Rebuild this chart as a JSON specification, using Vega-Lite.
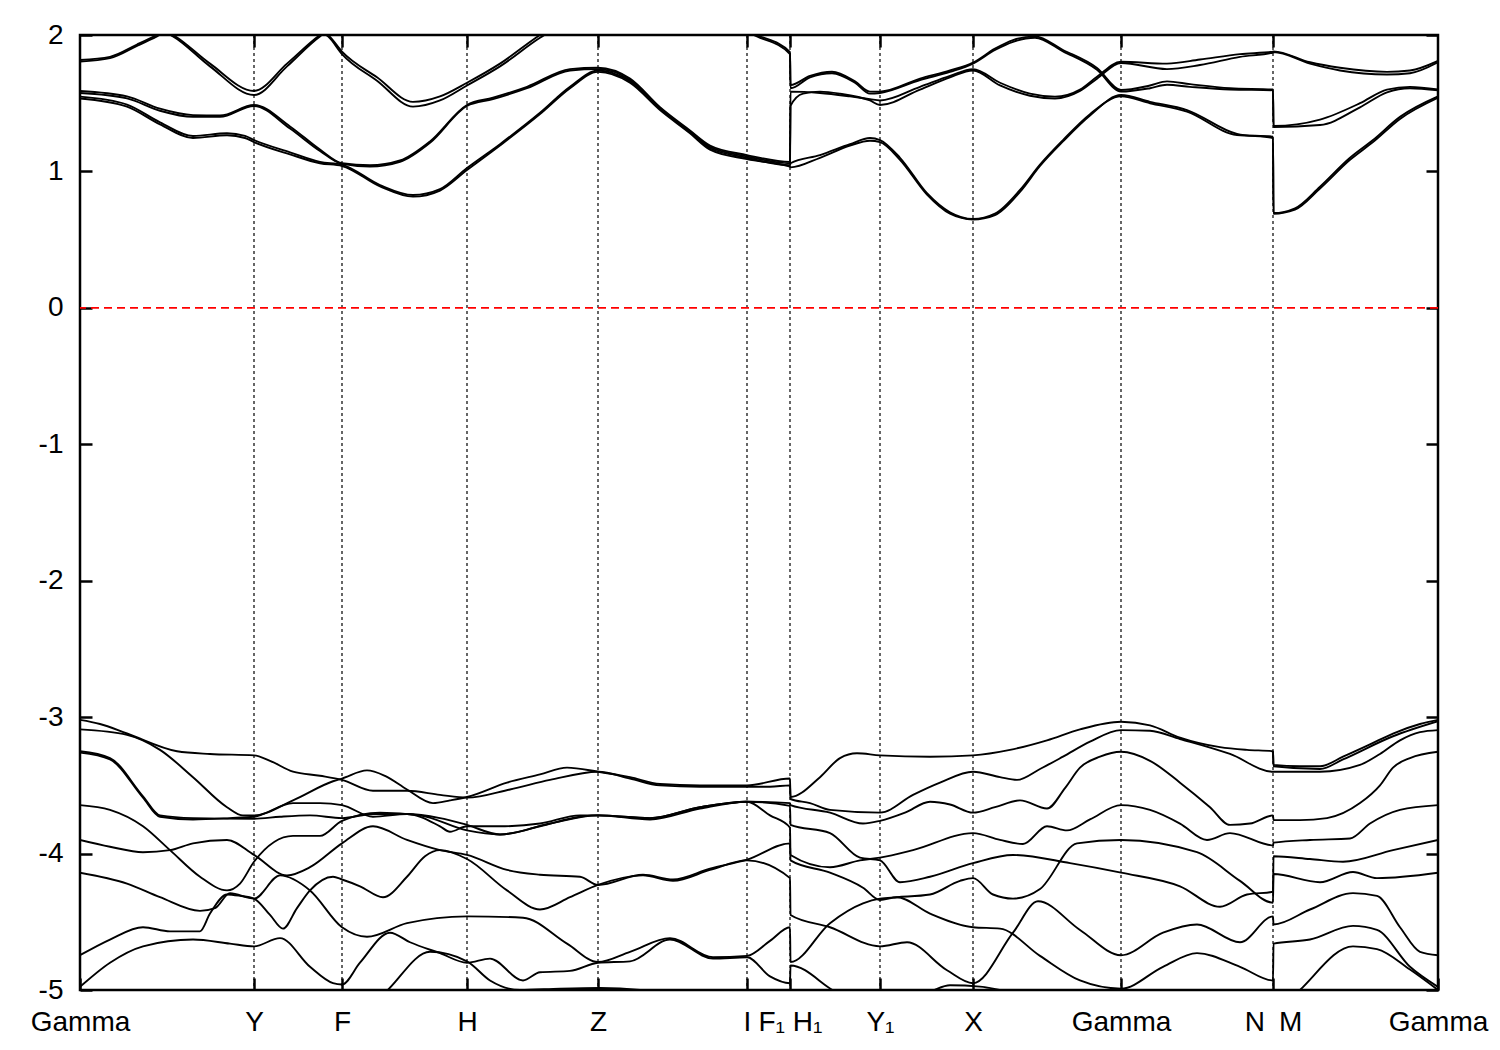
{
"$schema": "https://vega.github.io/schema/vega-lite/v6.json",
"width": 1358, "height": 955,
"autosize": {"type": "none"},
"padding": {"left": 80, "top": 35, "right": 62, "bottom": 60},
"background": "white",
"config": {"view": {"stroke": "black", "strokeWidth": 2.5}},
"datasets": {
"kp": [{"x":174},{"x":262},{"x":387},{"x":518},{"x":667},{"x":710},{"x":800},{"x":893},{"x":1041},{"x":1193}],
"zero": [{"e":0}],
"bands": [
{"b":"c1","x":0,"y":1.817},{"b":"c1","x":30,"y":1.84},{"b":"c1","x":57,"y":1.93},{"b":"c1","x":77,"y":2.0},{"b":"c1","x":85,"y":2.03},{"b":"c1","x":93,"y":2.0},{"b":"c1","x":130,"y":1.79},{"b":"c1","x":174,"y":1.59},{"b":"c1","x":207,"y":1.79},{"b":"c1","x":240,"y":2.0},{"b":"c1","x":244,"y":2.02},{"b":"c1","x":248,"y":2.0},{"b":"c1","x":262,"y":1.878},{"b":"c1","x":297,"y":1.69},{"b":"c1","x":333,"y":1.51},{"b":"c1","x":360,"y":1.55},{"b":"c1","x":387,"y":1.65},{"b":"c1","x":420,"y":1.79},{"b":"c1","x":460,"y":2.0},{"b":"c1","x":560,"y":2.35},{"b":"c1","x":640,"y":2.12},{"b":"c1","x":677,"y":2.0},{"b":"c1","x":710,"y":1.875},
{"b":"c1","x":710.5,"y":1.633},{"b":"c1","x":730,"y":1.70},{"b":"c1","x":752,"y":1.731},{"b":"c1","x":775,"y":1.66},{"b":"c1","x":790,"y":1.585},{"b":"c1","x":800,"y":1.585},{"b":"c1","x":840,"y":1.68},{"b":"c1","x":870,"y":1.74},{"b":"c1","x":893,"y":1.797},{"b":"c1","x":915,"y":1.90},{"b":"c1","x":933,"y":1.963},{"b":"c1","x":955,"y":1.99},{"b":"c1","x":983,"y":1.89},{"b":"c1","x":1017,"y":1.758},{"b":"c1","x":1041,"y":1.597},{"b":"c1","x":1070,"y":1.63},{"b":"c1","x":1087,"y":1.66},{"b":"c1","x":1110,"y":1.64},{"b":"c1","x":1150,"y":1.61},{"b":"c1","x":1193,"y":1.60},
{"b":"c1","x":1193.5,"y":1.333},{"b":"c1","x":1240,"y":1.38},{"b":"c1","x":1280,"y":1.50},{"b":"c1","x":1307,"y":1.60},{"b":"c1","x":1330,"y":1.62},{"b":"c1","x":1358,"y":1.60},
{"b":"c1b","x":0,"y":1.805},{"b":"c1b","x":30,"y":1.83},{"b":"c1b","x":57,"y":1.92},{"b":"c1b","x":77,"y":1.99},{"b":"c1b","x":85,"y":2.02},{"b":"c1b","x":93,"y":1.99},{"b":"c1b","x":130,"y":1.77},{"b":"c1b","x":174,"y":1.56},{"b":"c1b","x":207,"y":1.77},{"b":"c1b","x":240,"y":1.99},{"b":"c1b","x":244,"y":2.01},{"b":"c1b","x":248,"y":1.99},{"b":"c1b","x":262,"y":1.86},{"b":"c1b","x":297,"y":1.665},{"b":"c1b","x":333,"y":1.475},{"b":"c1b","x":360,"y":1.52},{"b":"c1b","x":387,"y":1.63},{"b":"c1b","x":420,"y":1.77},{"b":"c1b","x":460,"y":1.98},{"b":"c1b","x":560,"y":2.3},{"b":"c1b","x":640,"y":2.1},{"b":"c1b","x":677,"y":1.99},{"b":"c1b","x":710,"y":1.86},
{"b":"c1b","x":710.5,"y":1.61},{"b":"c1b","x":730,"y":1.69},{"b":"c1b","x":752,"y":1.72},{"b":"c1b","x":775,"y":1.65},{"b":"c1b","x":790,"y":1.57},{"b":"c1b","x":800,"y":1.575},{"b":"c1b","x":840,"y":1.67},{"b":"c1b","x":870,"y":1.73},{"b":"c1b","x":893,"y":1.79},{"b":"c1b","x":915,"y":1.89},{"b":"c1b","x":933,"y":1.95},{"b":"c1b","x":955,"y":1.98},{"b":"c1b","x":983,"y":1.88},{"b":"c1b","x":1017,"y":1.745},{"b":"c1b","x":1041,"y":1.585},{"b":"c1b","x":1070,"y":1.61},{"b":"c1b","x":1087,"y":1.635},{"b":"c1b","x":1110,"y":1.62},{"b":"c1b","x":1150,"y":1.60},{"b":"c1b","x":1193,"y":1.595},
{"b":"c1b","x":1193.5,"y":1.325},{"b":"c1b","x":1240,"y":1.34},{"b":"c1b","x":1280,"y":1.47},{"b":"c1b","x":1307,"y":1.58},{"b":"c1b","x":1330,"y":1.61},{"b":"c1b","x":1358,"y":1.595},
{"b":"c2","x":0,"y":1.59},{"b":"c2","x":47,"y":1.55},{"b":"c2","x":80,"y":1.46},{"b":"c2","x":113,"y":1.413},{"b":"c2","x":140,"y":1.41},{"b":"c2","x":174,"y":1.487},{"b":"c2","x":210,"y":1.33},{"b":"c2","x":240,"y":1.16},{"b":"c2","x":262,"y":1.06},{"b":"c2","x":290,"y":1.045},{"b":"c2","x":320,"y":1.08},{"b":"c2","x":350,"y":1.22},{"b":"c2","x":387,"y":1.487},{"b":"c2","x":413,"y":1.54},{"b":"c2","x":447,"y":1.62},{"b":"c2","x":490,"y":1.75},{"b":"c2","x":518,"y":1.76},{"b":"c2","x":550,"y":1.68},{"b":"c2","x":580,"y":1.47},{"b":"c2","x":610,"y":1.30},{"b":"c2","x":630,"y":1.19},{"b":"c2","x":667,"y":1.12},{"b":"c2","x":710,"y":1.07},
{"b":"c2","x":710.5,"y":1.585},{"b":"c2","x":740,"y":1.575},{"b":"c2","x":770,"y":1.55},{"b":"c2","x":790,"y":1.53},{"b":"c2","x":800,"y":1.52},{"b":"c2","x":840,"y":1.62},{"b":"c2","x":870,"y":1.70},{"b":"c2","x":893,"y":1.749},{"b":"c2","x":920,"y":1.65},{"b":"c2","x":950,"y":1.57},{"b":"c2","x":975,"y":1.548},{"b":"c2","x":1000,"y":1.60},{"b":"c2","x":1017,"y":1.694},{"b":"c2","x":1041,"y":1.804},{"b":"c2","x":1087,"y":1.79},{"b":"c2","x":1120,"y":1.82},{"b":"c2","x":1160,"y":1.86},{"b":"c2","x":1193,"y":1.878},
{"b":"c2","x":1193.5,"y":1.88},{"b":"c2","x":1230,"y":1.80},{"b":"c2","x":1260,"y":1.76},{"b":"c2","x":1307,"y":1.73},{"b":"c2","x":1330,"y":1.74},{"b":"c2","x":1358,"y":1.81},
{"b":"c2b","x":0,"y":1.575},{"b":"c2b","x":47,"y":1.535},{"b":"c2b","x":80,"y":1.445},{"b":"c2b","x":113,"y":1.40},{"b":"c2b","x":140,"y":1.40},{"b":"c2b","x":174,"y":1.48},{"b":"c2b","x":210,"y":1.315},{"b":"c2b","x":240,"y":1.15},{"b":"c2b","x":262,"y":1.055},{"b":"c2b","x":290,"y":1.035},{"b":"c2b","x":320,"y":1.07},{"b":"c2b","x":350,"y":1.21},{"b":"c2b","x":387,"y":1.48},{"b":"c2b","x":413,"y":1.53},{"b":"c2b","x":447,"y":1.61},{"b":"c2b","x":490,"y":1.74},{"b":"c2b","x":518,"y":1.75},{"b":"c2b","x":550,"y":1.67},{"b":"c2b","x":580,"y":1.46},{"b":"c2b","x":610,"y":1.29},{"b":"c2b","x":630,"y":1.18},{"b":"c2b","x":667,"y":1.11},{"b":"c2b","x":710,"y":1.06},
{"b":"c2b","x":710.5,"y":1.48},{"b":"c2b","x":723,"y":1.57},{"b":"c2b","x":740,"y":1.585},{"b":"c2b","x":760,"y":1.57},{"b":"c2b","x":790,"y":1.52},{"b":"c2b","x":800,"y":1.487},{"b":"c2b","x":840,"y":1.60},{"b":"c2b","x":870,"y":1.69},{"b":"c2b","x":893,"y":1.74},{"b":"c2b","x":920,"y":1.63},{"b":"c2b","x":950,"y":1.555},{"b":"c2b","x":975,"y":1.535},{"b":"c2b","x":1000,"y":1.59},{"b":"c2b","x":1017,"y":1.68},{"b":"c2b","x":1041,"y":1.795},{"b":"c2b","x":1087,"y":1.75},{"b":"c2b","x":1120,"y":1.78},{"b":"c2b","x":1160,"y":1.84},{"b":"c2b","x":1193,"y":1.872},
{"b":"c2b","x":1193.5,"y":1.875},{"b":"c2b","x":1230,"y":1.79},{"b":"c2b","x":1260,"y":1.74},{"b":"c2b","x":1307,"y":1.71},{"b":"c2b","x":1330,"y":1.72},{"b":"c2b","x":1358,"y":1.80},
{"b":"c3","x":0,"y":1.548},{"b":"c3","x":47,"y":1.49},{"b":"c3","x":80,"y":1.36},{"b":"c3","x":113,"y":1.26},{"b":"c3","x":147,"y":1.28},{"b":"c3","x":165,"y":1.26},{"b":"c3","x":174,"y":1.23},{"b":"c3","x":210,"y":1.14},{"b":"c3","x":240,"y":1.07},{"b":"c3","x":262,"y":1.05},{"b":"c3","x":300,"y":0.90},{"b":"c3","x":333,"y":0.827},{"b":"c3","x":360,"y":0.87},{"b":"c3","x":387,"y":1.025},{"b":"c3","x":420,"y":1.20},{"b":"c3","x":460,"y":1.43},{"b":"c3","x":490,"y":1.62},{"b":"c3","x":518,"y":1.74},{"b":"c3","x":550,"y":1.66},{"b":"c3","x":580,"y":1.46},{"b":"c3","x":610,"y":1.29},{"b":"c3","x":630,"y":1.17},{"b":"c3","x":667,"y":1.10},{"b":"c3","x":710,"y":1.045},
{"b":"c3","x":710.5,"y":1.06},{"b":"c3","x":740,"y":1.12},{"b":"c3","x":770,"y":1.20},{"b":"c3","x":790,"y":1.245},{"b":"c3","x":800,"y":1.23},{"b":"c3","x":820,"y":1.10},{"b":"c3","x":847,"y":0.84},{"b":"c3","x":870,"y":0.70},{"b":"c3","x":893,"y":0.651},{"b":"c3","x":915,"y":0.69},{"b":"c3","x":940,"y":0.864},{"b":"c3","x":960,"y":1.05},{"b":"c3","x":983,"y":1.23},{"b":"c3","x":1010,"y":1.42},{"b":"c3","x":1041,"y":1.55},{"b":"c3","x":1070,"y":1.50},{"b":"c3","x":1107,"y":1.438},{"b":"c3","x":1157,"y":1.267},{"b":"c3","x":1193,"y":1.255},
{"b":"c3","x":1193.5,"y":0.695},{"b":"c3","x":1215,"y":0.73},{"b":"c3","x":1240,"y":0.888},{"b":"c3","x":1270,"y":1.10},{"b":"c3","x":1293,"y":1.23},{"b":"c3","x":1320,"y":1.40},{"b":"c3","x":1358,"y":1.55},
{"b":"c3b","x":0,"y":1.535},{"b":"c3b","x":47,"y":1.475},{"b":"c3b","x":80,"y":1.345},{"b":"c3b","x":113,"y":1.245},{"b":"c3b","x":147,"y":1.265},{"b":"c3b","x":165,"y":1.245},{"b":"c3b","x":174,"y":1.215},{"b":"c3b","x":210,"y":1.125},{"b":"c3b","x":240,"y":1.06},{"b":"c3b","x":262,"y":1.04},{"b":"c3b","x":300,"y":0.89},{"b":"c3b","x":333,"y":0.815},{"b":"c3b","x":360,"y":0.86},{"b":"c3b","x":387,"y":1.01},{"b":"c3b","x":420,"y":1.19},{"b":"c3b","x":460,"y":1.42},{"b":"c3b","x":490,"y":1.61},{"b":"c3b","x":518,"y":1.73},{"b":"c3b","x":550,"y":1.65},{"b":"c3b","x":580,"y":1.45},{"b":"c3b","x":610,"y":1.28},{"b":"c3b","x":630,"y":1.16},{"b":"c3b","x":667,"y":1.09},{"b":"c3b","x":710,"y":1.035},
{"b":"c3b","x":710.5,"y":1.03},{"b":"c3b","x":740,"y":1.10},{"b":"c3b","x":770,"y":1.19},{"b":"c3b","x":790,"y":1.225},{"b":"c3b","x":800,"y":1.215},{"b":"c3b","x":820,"y":1.085},{"b":"c3b","x":847,"y":0.83},{"b":"c3b","x":870,"y":0.69},{"b":"c3b","x":893,"y":0.648},{"b":"c3b","x":915,"y":0.68},{"b":"c3b","x":940,"y":0.85},{"b":"c3b","x":960,"y":1.04},{"b":"c3b","x":983,"y":1.22},{"b":"c3b","x":1010,"y":1.41},{"b":"c3b","x":1041,"y":1.56},{"b":"c3b","x":1070,"y":1.51},{"b":"c3b","x":1107,"y":1.45},{"b":"c3b","x":1157,"y":1.275},{"b":"c3b","x":1193,"y":1.245},
{"b":"c3b","x":1193.5,"y":0.69},{"b":"c3b","x":1215,"y":0.72},{"b":"c3b","x":1240,"y":0.875},{"b":"c3b","x":1270,"y":1.085},{"b":"c3b","x":1293,"y":1.215},{"b":"c3b","x":1320,"y":1.385},{"b":"c3b","x":1358,"y":1.54},
{"b":"v1","x":0,"y":-3.09},{"b":"v1","x":47,"y":-3.13},{"b":"v1","x":80,"y":-3.24},{"b":"v1","x":113,"y":-3.44},{"b":"v1","x":147,"y":-3.66},{"b":"v1","x":163,"y":-3.72},{"b":"v1","x":174,"y":-3.72},{"b":"v1","x":213,"y":-3.61},{"b":"v1","x":253,"y":-3.47},{"b":"v1","x":262,"y":-3.45},{"b":"v1","x":287,"y":-3.39},{"b":"v1","x":305,"y":-3.43},{"b":"v1","x":327,"y":-3.53},{"b":"v1","x":353,"y":-3.63},{"b":"v1","x":370,"y":-3.61},{"b":"v1","x":387,"y":-3.585},{"b":"v1","x":427,"y":-3.48},{"b":"v1","x":460,"y":-3.42},{"b":"v1","x":487,"y":-3.37},{"b":"v1","x":518,"y":-3.40},{"b":"v1","x":550,"y":-3.44},{"b":"v1","x":580,"y":-3.49},{"b":"v1","x":620,"y":-3.50},{"b":"v1","x":667,"y":-3.50},{"b":"v1","x":710,"y":-3.45},
{"b":"v1","x":710.5,"y":-3.585},{"b":"v1","x":740,"y":-3.44},{"b":"v1","x":760,"y":-3.30},{"b":"v1","x":777,"y":-3.265},{"b":"v1","x":800,"y":-3.28},{"b":"v1","x":850,"y":-3.29},{"b":"v1","x":893,"y":-3.28},{"b":"v1","x":930,"y":-3.24},{"b":"v1","x":967,"y":-3.17},{"b":"v1","x":1000,"y":-3.09},{"b":"v1","x":1041,"y":-3.034},{"b":"v1","x":1070,"y":-3.06},{"b":"v1","x":1100,"y":-3.15},{"b":"v1","x":1140,"y":-3.22},{"b":"v1","x":1167,"y":-3.24},{"b":"v1","x":1193,"y":-3.25},
{"b":"v1","x":1193.5,"y":-3.35},{"b":"v1","x":1220,"y":-3.36},{"b":"v1","x":1240,"y":-3.36},{"b":"v1","x":1263,"y":-3.29},{"b":"v1","x":1290,"y":-3.20},{"b":"v1","x":1313,"y":-3.12},{"b":"v1","x":1340,"y":-3.05},{"b":"v1","x":1358,"y":-3.02},
{"b":"vt","x":1193,"y":-3.25},{"b":"vt","x":1193.5,"y":-3.36},{"b":"vt","x":1240,"y":-3.38},{"b":"vt","x":1263,"y":-3.31},{"b":"vt","x":1313,"y":-3.14},{"b":"vt","x":1358,"y":-3.03},
{"b":"v2","x":0,"y":-3.02},{"b":"v2","x":20,"y":-3.05},{"b":"v2","x":47,"y":-3.12},{"b":"v2","x":97,"y":-3.25},{"b":"v2","x":130,"y":-3.27},{"b":"v2","x":174,"y":-3.28},{"b":"v2","x":190,"y":-3.32},{"b":"v2","x":213,"y":-3.40},{"b":"v2","x":240,"y":-3.43},{"b":"v2","x":262,"y":-3.46},{"b":"v2","x":293,"y":-3.54},{"b":"v2","x":327,"y":-3.54},{"b":"v2","x":360,"y":-3.57},{"b":"v2","x":387,"y":-3.59},{"b":"v2","x":430,"y":-3.53},{"b":"v2","x":470,"y":-3.46},{"b":"v2","x":518,"y":-3.40},{"b":"v2","x":550,"y":-3.45},{"b":"v2","x":580,"y":-3.50},{"b":"v2","x":620,"y":-3.51},{"b":"v2","x":667,"y":-3.51},{"b":"v2","x":690,"y":-3.51},{"b":"v2","x":710,"y":-3.50},
{"b":"v2","x":710.5,"y":-3.60},{"b":"v2","x":730,"y":-3.63},{"b":"v2","x":750,"y":-3.68},{"b":"v2","x":800,"y":-3.70},{"b":"v2","x":833,"y":-3.57},{"b":"v2","x":860,"y":-3.48},{"b":"v2","x":893,"y":-3.40},{"b":"v2","x":920,"y":-3.44},{"b":"v2","x":937,"y":-3.46},{"b":"v2","x":960,"y":-3.38},{"b":"v2","x":983,"y":-3.29},{"b":"v2","x":1010,"y":-3.18},{"b":"v2","x":1041,"y":-3.095},{"b":"v2","x":1070,"y":-3.10},{"b":"v2","x":1100,"y":-3.16},{"b":"v2","x":1150,"y":-3.27},{"b":"v2","x":1193,"y":-3.40},
{"b":"v2","x":1193.5,"y":-3.40},{"b":"v2","x":1240,"y":-3.40},{"b":"v2","x":1280,"y":-3.35},{"b":"v2","x":1300,"y":-3.27},{"b":"v2","x":1320,"y":-3.17},{"b":"v2","x":1340,"y":-3.11},{"b":"v2","x":1358,"y":-3.095},
{"b":"v3","x":0,"y":-3.26},{"b":"v3","x":30,"y":-3.31},{"b":"v3","x":63,"y":-3.59},{"b":"v3","x":80,"y":-3.73},{"b":"v3","x":113,"y":-3.75},{"b":"v3","x":150,"y":-3.74},{"b":"v3","x":174,"y":-3.73},{"b":"v3","x":213,"y":-3.63},{"b":"v3","x":240,"y":-3.63},{"b":"v3","x":262,"y":-3.645},{"b":"v3","x":293,"y":-3.73},{"b":"v3","x":327,"y":-3.71},{"b":"v3","x":360,"y":-3.80},{"b":"v3","x":370,"y":-3.84},{"b":"v3","x":387,"y":-3.80},{"b":"v3","x":420,"y":-3.80},{"b":"v3","x":460,"y":-3.78},{"b":"v3","x":500,"y":-3.72},{"b":"v3","x":518,"y":-3.72},{"b":"v3","x":570,"y":-3.75},{"b":"v3","x":620,"y":-3.67},{"b":"v3","x":667,"y":-3.62},{"b":"v3","x":710,"y":-3.63},
{"b":"v3","x":710.5,"y":-3.645},{"b":"v3","x":750,"y":-3.70},{"b":"v3","x":783,"y":-3.78},{"b":"v3","x":800,"y":-3.76},{"b":"v3","x":825,"y":-3.70},{"b":"v3","x":850,"y":-3.62},{"b":"v3","x":870,"y":-3.64},{"b":"v3","x":893,"y":-3.70},{"b":"v3","x":915,"y":-3.66},{"b":"v3","x":940,"y":-3.61},{"b":"v3","x":967,"y":-3.67},{"b":"v3","x":985,"y":-3.52},{"b":"v3","x":1000,"y":-3.37},{"b":"v3","x":1020,"y":-3.29},{"b":"v3","x":1041,"y":-3.254},{"b":"v3","x":1070,"y":-3.32},{"b":"v3","x":1100,"y":-3.48},{"b":"v3","x":1130,"y":-3.66},{"b":"v3","x":1150,"y":-3.79},{"b":"v3","x":1170,"y":-3.78},{"b":"v3","x":1193,"y":-3.72},
{"b":"v3","x":1193.5,"y":-3.755},{"b":"v3","x":1220,"y":-3.755},{"b":"v3","x":1247,"y":-3.74},{"b":"v3","x":1280,"y":-3.63},{"b":"v3","x":1300,"y":-3.50},{"b":"v3","x":1313,"y":-3.37},{"b":"v3","x":1330,"y":-3.30},{"b":"v3","x":1358,"y":-3.254},
{"b":"v4","x":0,"y":-3.25},{"b":"v4","x":30,"y":-3.30},{"b":"v4","x":63,"y":-3.58},{"b":"v4","x":80,"y":-3.72},{"b":"v4","x":113,"y":-3.74},{"b":"v4","x":174,"y":-3.745},{"b":"v4","x":200,"y":-3.73},{"b":"v4","x":230,"y":-3.72},{"b":"v4","x":262,"y":-3.74},{"b":"v4","x":293,"y":-3.71},{"b":"v4","x":327,"y":-3.71},{"b":"v4","x":360,"y":-3.74},{"b":"v4","x":387,"y":-3.79},{"b":"v4","x":420,"y":-3.86},{"b":"v4","x":460,"y":-3.80},{"b":"v4","x":500,"y":-3.73},{"b":"v4","x":518,"y":-3.72},{"b":"v4","x":570,"y":-3.74},{"b":"v4","x":620,"y":-3.66},{"b":"v4","x":667,"y":-3.62},{"b":"v4","x":710,"y":-3.65},
{"b":"v4","x":710.5,"y":-3.79},{"b":"v4","x":750,"y":-3.85},{"b":"v4","x":780,"y":-4.03},{"b":"v4","x":800,"y":-4.05},{"b":"v4","x":820,"y":-4.21},{"b":"v4","x":850,"y":-4.17},{"b":"v4","x":893,"y":-4.07},{"b":"v4","x":933,"y":-4.01},{"b":"v4","x":990,"y":-4.07},{"b":"v4","x":1041,"y":-4.14},{"b":"v4","x":1100,"y":-4.24},{"b":"v4","x":1140,"y":-4.39},{"b":"v4","x":1167,"y":-4.30},{"b":"v4","x":1193,"y":-4.28},
{"b":"v4","x":1193.5,"y":-4.02},{"b":"v4","x":1230,"y":-4.04},{"b":"v4","x":1263,"y":-4.06},{"b":"v4","x":1313,"y":-3.975},{"b":"v4","x":1358,"y":-3.90},
{"b":"v5","x":0,"y":-3.645},{"b":"v5","x":30,"y":-3.68},{"b":"v5","x":63,"y":-3.80},{"b":"v5","x":90,"y":-3.975},{"b":"v5","x":120,"y":-4.17},{"b":"v5","x":147,"y":-4.27},{"b":"v5","x":160,"y":-4.22},{"b":"v5","x":174,"y":-4.06},{"b":"v5","x":213,"y":-3.87},{"b":"v5","x":240,"y":-3.87},{"b":"v5","x":262,"y":-3.76},{"b":"v5","x":300,"y":-3.70},{"b":"v5","x":340,"y":-3.72},{"b":"v5","x":387,"y":-3.83},{"b":"v5","x":420,"y":-3.86},{"b":"v5","x":470,"y":-3.78},{"b":"v5","x":518,"y":-3.72},{"b":"v5","x":570,"y":-3.74},{"b":"v5","x":620,"y":-3.66},{"b":"v5","x":667,"y":-3.62},{"b":"v5","x":690,"y":-3.72},{"b":"v5","x":710,"y":-3.81},
{"b":"v5","x":710.5,"y":-4.01},{"b":"v5","x":750,"y":-4.10},{"b":"v5","x":780,"y":-4.05},{"b":"v5","x":800,"y":-4.03},{"b":"v5","x":833,"y":-3.975},{"b":"v5","x":893,"y":-3.85},{"b":"v5","x":920,"y":-3.90},{"b":"v5","x":943,"y":-3.93},{"b":"v5","x":967,"y":-3.80},{"b":"v5","x":987,"y":-3.83},{"b":"v5","x":1010,"y":-3.75},{"b":"v5","x":1041,"y":-3.645},{"b":"v5","x":1070,"y":-3.68},{"b":"v5","x":1100,"y":-3.78},{"b":"v5","x":1127,"y":-3.90},{"b":"v5","x":1150,"y":-3.85},{"b":"v5","x":1193,"y":-3.94},
{"b":"v5","x":1193.5,"y":-3.92},{"b":"v5","x":1230,"y":-3.90},{"b":"v5","x":1270,"y":-3.89},{"b":"v5","x":1290,"y":-3.78},{"b":"v5","x":1320,"y":-3.68},{"b":"v5","x":1358,"y":-3.645},
{"b":"v6","x":0,"y":-3.90},{"b":"v6","x":30,"y":-3.95},{"b":"v6","x":63,"y":-3.99},{"b":"v6","x":90,"y":-3.975},{"b":"v6","x":113,"y":-3.925},{"b":"v6","x":147,"y":-3.90},{"b":"v6","x":174,"y":-4.01},{"b":"v6","x":207,"y":-4.16},{"b":"v6","x":230,"y":-4.10},{"b":"v6","x":262,"y":-3.925},{"b":"v6","x":293,"y":-3.80},{"b":"v6","x":327,"y":-3.90},{"b":"v6","x":360,"y":-3.975},{"b":"v6","x":387,"y":-4.01},{"b":"v6","x":427,"y":-4.12},{"b":"v6","x":460,"y":-4.155},{"b":"v6","x":500,"y":-4.17},{"b":"v6","x":518,"y":-4.23},{"b":"v6","x":563,"y":-4.155},{"b":"v6","x":593,"y":-4.19},{"b":"v6","x":630,"y":-4.11},{"b":"v6","x":667,"y":-4.045},{"b":"v6","x":710,"y":-3.925},
{"b":"v6","x":710.5,"y":-4.05},{"b":"v6","x":750,"y":-4.14},{"b":"v6","x":783,"y":-4.25},{"b":"v6","x":800,"y":-4.34},{"b":"v6","x":817,"y":-4.32},{"b":"v6","x":850,"y":-4.44},{"b":"v6","x":893,"y":-4.54},{"b":"v6","x":920,"y":-4.55},{"b":"v6","x":960,"y":-4.75},{"b":"v6","x":1000,"y":-4.93},{"b":"v6","x":1041,"y":-4.99},{"b":"v6","x":1083,"y":-4.83},{"b":"v6","x":1117,"y":-4.73},{"b":"v6","x":1160,"y":-4.83},{"b":"v6","x":1193,"y":-4.93},
{"b":"v6","x":1193.5,"y":-4.66},{"b":"v6","x":1230,"y":-4.63},{"b":"v6","x":1273,"y":-4.53},{"b":"v6","x":1297,"y":-4.56},{"b":"v6","x":1330,"y":-4.83},{"b":"v6","x":1358,"y":-4.977},
{"b":"v7","x":0,"y":-4.745},{"b":"v7","x":30,"y":-4.63},{"b":"v7","x":63,"y":-4.54},{"b":"v7","x":90,"y":-4.57},{"b":"v7","x":120,"y":-4.57},{"b":"v7","x":130,"y":-4.44},{"b":"v7","x":147,"y":-4.30},{"b":"v7","x":160,"y":-4.31},{"b":"v7","x":174,"y":-4.33},{"b":"v7","x":190,"y":-4.45},{"b":"v7","x":203,"y":-4.55},{"b":"v7","x":217,"y":-4.40},{"b":"v7","x":230,"y":-4.27},{"b":"v7","x":253,"y":-4.17},{"b":"v7","x":262,"y":-4.19},{"b":"v7","x":280,"y":-4.24},{"b":"v7","x":303,"y":-4.32},{"b":"v7","x":327,"y":-4.17},{"b":"v7","x":345,"y":-4.02},{"b":"v7","x":360,"y":-3.975},{"b":"v7","x":387,"y":-4.04},{"b":"v7","x":427,"y":-4.27},{"b":"v7","x":460,"y":-4.41},{"b":"v7","x":490,"y":-4.32},{"b":"v7","x":518,"y":-4.23},{"b":"v7","x":563,"y":-4.16},{"b":"v7","x":593,"y":-4.20},{"b":"v7","x":630,"y":-4.12},{"b":"v7","x":667,"y":-4.05},{"b":"v7","x":710,"y":-4.18},
{"b":"v7","x":710.5,"y":-4.45},{"b":"v7","x":750,"y":-4.54},{"b":"v7","x":800,"y":-4.68},{"b":"v7","x":827,"y":-4.65},{"b":"v7","x":867,"y":-4.855},{"b":"v7","x":893,"y":-4.95},{"b":"v7","x":933,"y":-4.58},{"b":"v7","x":958,"y":-4.35},{"b":"v7","x":1000,"y":-4.56},{"b":"v7","x":1041,"y":-4.745},{"b":"v7","x":1083,"y":-4.58},{"b":"v7","x":1117,"y":-4.52},{"b":"v7","x":1160,"y":-4.65},{"b":"v7","x":1193,"y":-4.46},
{"b":"v7","x":1193.5,"y":-4.52},{"b":"v7","x":1230,"y":-4.41},{"b":"v7","x":1273,"y":-4.29},{"b":"v7","x":1297,"y":-4.31},{"b":"v7","x":1320,"y":-4.54},{"b":"v7","x":1340,"y":-4.72},{"b":"v7","x":1358,"y":-4.745},
{"b":"v8","x":0,"y":-4.14},{"b":"v8","x":47,"y":-4.22},{"b":"v8","x":80,"y":-4.32},{"b":"v8","x":120,"y":-4.42},{"b":"v8","x":135,"y":-4.40},{"b":"v8","x":150,"y":-4.29},{"b":"v8","x":174,"y":-4.33},{"b":"v8","x":200,"y":-4.16},{"b":"v8","x":230,"y":-4.27},{"b":"v8","x":262,"y":-4.54},{"b":"v8","x":287,"y":-4.61},{"b":"v8","x":327,"y":-4.51},{"b":"v8","x":387,"y":-4.46},{"b":"v8","x":443,"y":-4.47},{"b":"v8","x":487,"y":-4.66},{"b":"v8","x":518,"y":-4.795},{"b":"v8","x":550,"y":-4.72},{"b":"v8","x":590,"y":-4.62},{"b":"v8","x":633,"y":-4.76},{"b":"v8","x":667,"y":-4.75},{"b":"v8","x":690,"y":-4.64},{"b":"v8","x":710,"y":-4.54},
{"b":"v8","x":710.5,"y":-4.795},{"b":"v8","x":750,"y":-4.51},{"b":"v8","x":783,"y":-4.365},{"b":"v8","x":800,"y":-4.33},{"b":"v8","x":817,"y":-4.32},{"b":"v8","x":850,"y":-4.30},{"b":"v8","x":880,"y":-4.20},{"b":"v8","x":893,"y":-4.18},{"b":"v8","x":913,"y":-4.30},{"b":"v8","x":933,"y":-4.33},{"b":"v8","x":960,"y":-4.26},{"b":"v8","x":997,"y":-3.925},{"b":"v8","x":1041,"y":-3.90},{"b":"v8","x":1117,"y":-3.99},{"b":"v8","x":1160,"y":-4.20},{"b":"v8","x":1193,"y":-4.36},
{"b":"v8","x":1193.5,"y":-4.15},{"b":"v8","x":1240,"y":-4.21},{"b":"v8","x":1273,"y":-4.135},{"b":"v8","x":1297,"y":-4.18},{"b":"v8","x":1358,"y":-4.14},
{"b":"v9","x":0,"y":-4.977},{"b":"v9","x":30,"y":-4.80},{"b":"v9","x":63,"y":-4.68},{"b":"v9","x":113,"y":-4.63},{"b":"v9","x":150,"y":-4.66},{"b":"v9","x":174,"y":-4.68},{"b":"v9","x":200,"y":-4.62},{"b":"v9","x":230,"y":-4.83},{"b":"v9","x":253,"y":-4.95},{"b":"v9","x":262,"y":-4.96},{"b":"v9","x":280,"y":-4.80},{"b":"v9","x":310,"y":-4.58},{"b":"v9","x":330,"y":-4.65},{"b":"v9","x":360,"y":-4.73},{"b":"v9","x":387,"y":-4.80},{"b":"v9","x":410,"y":-4.77},{"b":"v9","x":443,"y":-4.93},{"b":"v9","x":460,"y":-4.87},{"b":"v9","x":490,"y":-4.86},{"b":"v9","x":518,"y":-4.80},{"b":"v9","x":550,"y":-4.79},{"b":"v9","x":590,"y":-4.63},{"b":"v9","x":633,"y":-4.77},{"b":"v9","x":667,"y":-4.76},{"b":"v9","x":690,"y":-4.90},{"b":"v9","x":710,"y":-4.95},
{"b":"v9","x":710.5,"y":-4.82},{"b":"v9","x":760,"y":-5.03},{"b":"v9","x":800,"y":-5.1},{"b":"v9","x":850,"y":-5.01},{"b":"v9","x":870,"y":-4.965},{"b":"v9","x":900,"y":-4.975},{"b":"v9","x":940,"y":-5.03},{"b":"v9","x":1000,"y":-5.1},{"b":"v9","x":1041,"y":-5.0},{"b":"v9","x":1080,"y":-5.1},{"b":"v9","x":1193,"y":-5.2},
{"b":"v9","x":1193.5,"y":-5.2},{"b":"v9","x":1220,"y":-5.0},{"b":"v9","x":1273,"y":-4.68},{"b":"v9","x":1297,"y":-4.70},{"b":"v9","x":1330,"y":-4.85},{"b":"v9","x":1358,"y":-5.0},
{"b":"v10","x":0,"y":-5.0},{"b":"v10","x":30,"y":-5.1},{"b":"v10","x":250,"y":-5.2},{"b":"v10","x":300,"y":-5.05},{"b":"v10","x":350,"y":-4.72},{"b":"v10","x":387,"y":-4.79},{"b":"v10","x":410,"y":-4.93},{"b":"v10","x":440,"y":-5.0},{"b":"v10","x":480,"y":-4.99},{"b":"v10","x":520,"y":-4.985},{"b":"v10","x":560,"y":-5.0},{"b":"v10","x":600,"y":-5.1},{"b":"v10","x":710,"y":-5.2}
]
},
"layer": [
{"data": {"name": "kp"},
 "mark": {"type": "rule", "color": "black", "strokeWidth": 1.2, "strokeDash": [3, 3]},
 "encoding": {"x": {"field": "x", "type": "quantitative", "scale": {"domain": [0, 1358], "nice": false, "zero": false},
   "axis": {"orient": "top", "values": [174,262,387,518,667,710,800,893,1041,1193], "labels": false, "title": null, "grid": false, "domain": false, "tickSize": -12, "tickWidth": 2.5, "tickColor": "black"}}}},
{"data": {"name": "zero"},
 "mark": {"type": "rule", "color": "#ff0000", "strokeWidth": 1.6, "strokeDash": [8, 5]},
 "encoding": {"y": {"field": "e", "type": "quantitative", "scale": {"domain": [-5, 2], "nice": false, "zero": false},
   "axis": {"orient": "right", "values": [-5,-4,-3,-2,-1,0,1,2], "labels": false, "title": null, "grid": false, "domain": false, "tickSize": -12, "tickWidth": 2.5, "tickColor": "black"}}}},
{"data": {"name": "bands"},
 "mark": {"type": "line", "color": "black", "strokeWidth": 1.9, "clip": true, "interpolate": "monotone"},
 "encoding": {
   "x": {"field": "x", "type": "quantitative", "scale": {"domain": [0, 1358], "nice": false, "zero": false},
     "axis": {"orient": "bottom", "values": [0,174,262,387,518,667,710,800,893,1041,1193,1358],
       "labelExpr": "datum.value==0?'Gamma':datum.value==174?'Y':datum.value==262?'F':datum.value==387?'H':datum.value==518?'Z':datum.value==667?'I':datum.value==710?'F₁ H₁':datum.value==800?'Y₁':datum.value==893?'X':datum.value==1041?'Gamma':datum.value==1193?'N\u2002M':'Gamma'",
       "title": null, "grid": false, "domain": false, "tickSize": -12, "tickWidth": 2.5, "tickColor": "black",
       "labelFont": "Liberation Sans", "labelFontSize": 28, "labelColor": "black", "labelPadding": 30,
       "labelOverlap": false, "labelFlush": false, "labelBound": false}},
   "y": {"field": "y", "type": "quantitative", "scale": {"domain": [-5, 2], "nice": false, "zero": false},
     "axis": {"orient": "left", "values": [-5,-4,-3,-2,-1,0,1,2], "title": null, "grid": false, "domain": false,
       "labelExpr": "datum.value < 0 ? '-' + abs(datum.value) : '' + datum.value",
       "tickSize": -12, "tickWidth": 2.5, "tickColor": "black",
       "labelFont": "Liberation Sans", "labelFontSize": 28, "labelColor": "black", "labelPadding": 29,
       "labelOverlap": false, "labelFlush": false, "labelBound": false}},
   "detail": {"field": "b", "type": "nominal"}}}
],
"resolve": {"axis": {"x": "independent", "y": "independent"}}
}
